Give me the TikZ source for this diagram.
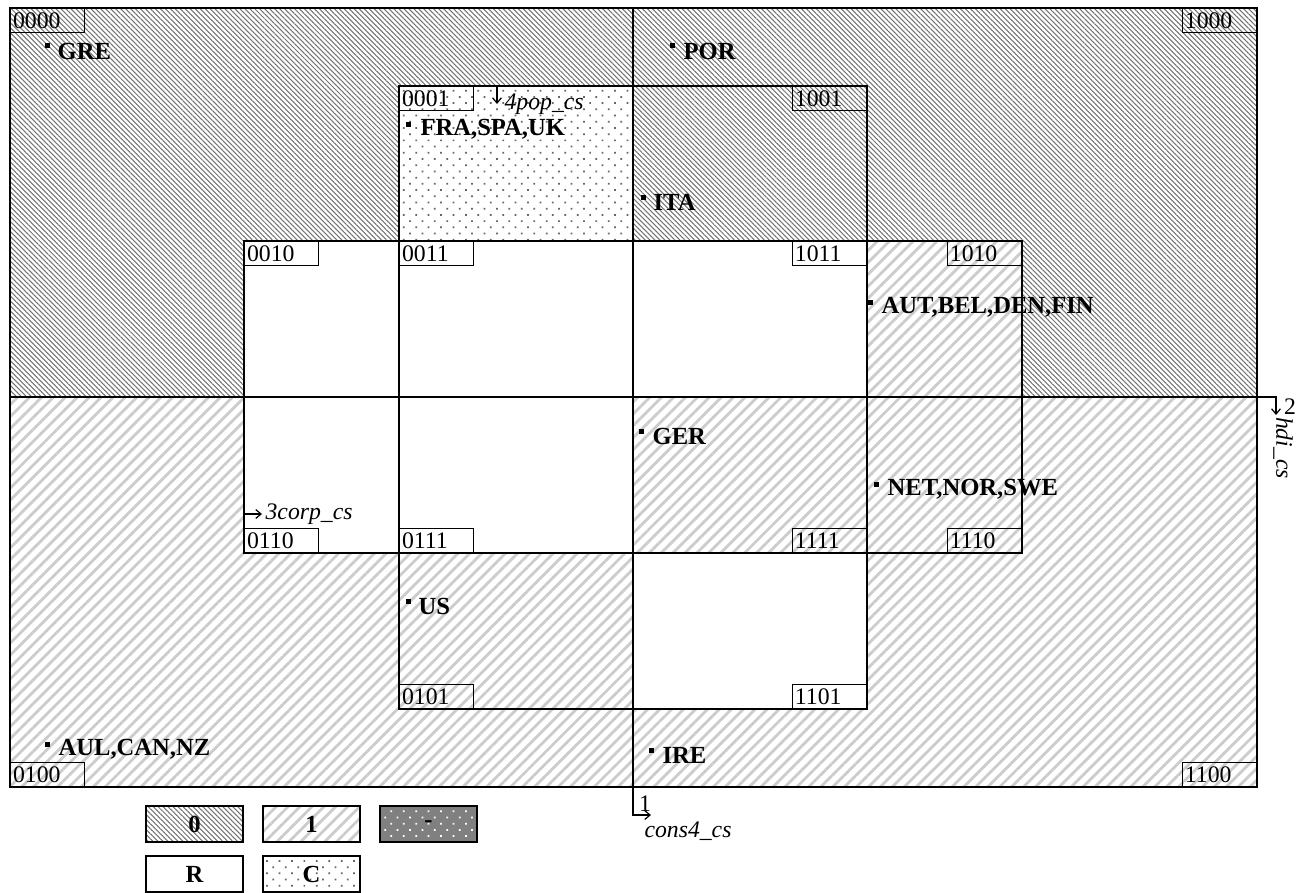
\documentclass[tikz,border=0pt]{standalone}
\usepackage{fontspec}
\setmainfont{Liberation Serif}
\usetikzlibrary{patterns.meta,arrows.meta}
\definecolor{hatchzero}{gray}{0.45}
\definecolor{hatchone}{gray}{0.80}
\definecolor{dotgray}{gray}{0.40}
\definecolor{legdark}{gray}{0.50}

\begin{document}
\begin{tikzpicture}[x=0.02cm, y=-0.02cm, line width=0.7pt, >={Straight Barb[length=3pt,width=5pt]},
  zero/.style={pattern={Lines[angle=-45,distance=2pt,line width=0.6pt]}, pattern color=hatchzero},
  one/.style={pattern={Lines[angle=45,distance=4.8pt,line width=1.6pt]}, pattern color=hatchone},
  cpat/.style={pattern={Dots[distance=5pt,radius=0.7pt,angle=45]}, pattern color=dotgray},
  code/.style={draw, text width=1.38cm, inner xsep=0.05cm, inner ysep=0pt, minimum height=0.48cm,
    align=left, font=\fontsize{13.5}{13.5}\selectfont},
  dotmark/.style={fill, rectangle, minimum size=0.1cm, inner sep=0pt},
  country/.style={anchor=west, inner sep=0pt, font=\bfseries\fontsize{14}{14}\selectfont},
  axname/.style={inner sep=0pt, font=\itshape\fontsize{13.5}{14}\selectfont},
  legbox/.style={draw, minimum width=1.94cm, minimum height=0.72cm, inner sep=0pt,
    font=\bfseries\fontsize{14}{14}\selectfont}]
  \useasboundingbox (0,0) rectangle (1307,892);

  % cell fillings
  \fill[zero] (10,8) rectangle (1257,397);
  \fill[one] (10,397) rectangle (1257,787);
  \fill[white] (244,241) rectangle (633,553);
  \fill[white] (633,241) rectangle (1022,397);
  \fill[white] (633,553) rectangle (867,709);
  \fill[white] (399,86) rectangle (633,241);
  \fill[cpat] (399,86) rectangle (633,241);
  \fill[one] (867,241) rectangle (1022,397);

  % borders
  \draw (10,8) rectangle (1257,787);
  \draw (399,86) rectangle (867,709);
  \draw (244,241) rectangle (1022,553);
  \draw (10,397) -- (1257,397);

  % variable axes
  \coordinate (c1) at (633,8);
  \coordinate (c1end) at (633,815);
  \coordinate (c2) at (1257,397);
  \coordinate (c2end) at (1276,397);
  \coordinate (c3) at (244,514);
  \coordinate (c4) at (497,86);
  \draw[->] (c1) -- (c1end) -- ++(18,0);
  \draw[->] (c2) -- (c2end) -- ++(0,18);
  \draw[->] (c3) -- ++(18,0);
  \draw[->] (c4) -- ++(0,18);
  \node[inner sep=0pt, font=\fontsize{13.5}{13.5}\selectfont] (one1) at (645,804) {1};
  \node[axname] (cons) at (688,831) {cons4\_cs};
  \node[inner sep=0pt, font=\fontsize{13.5}{13.5}\selectfont] (two2) at (1290,407) {2};
  \node[axname, rotate=-90] (hdi) at (1283,448) {hdi\_cs};
  \node[axname, anchor=west] (corp) at (265,514) {3corp\_cs};
  \node[axname, anchor=west] (pop) at (504,104) {4pop\_cs};

  % region codes
  \node[code, anchor=north west] (k0000) at (10,8) {0000};
  \node[code, anchor=north east] (k1000) at (1257,8) {1000};
  \node[code, anchor=north west] (k0001) at (399,86) {0001};
  \node[code, anchor=north east] (k1001) at (867,86) {1001};
  \node[code, anchor=north west] (k0010) at (244,241) {0010};
  \node[code, anchor=north west] (k0011) at (399,241) {0011};
  \node[code, anchor=north east] (k1011) at (867,241) {1011};
  \node[code, anchor=north east] (k1010) at (1022,241) {1010};
  \node[code, anchor=south west] (k0110) at (244,553) {0110};
  \node[code, anchor=south west] (k0111) at (399,553) {0111};
  \node[code, anchor=south east] (k1111) at (867,553) {1111};
  \node[code, anchor=south east] (k1110) at (1022,553) {1110};
  \node[code, anchor=south west] (k0101) at (399,709) {0101};
  \node[code, anchor=south east] (k1101) at (867,709) {1101};
  \node[code, anchor=south west] (k0100) at (10,787) {0100};
  \node[code, anchor=south east] (k1100) at (1257,787) {1100};

  % countries
  \node[dotmark] (gre) at (47,46) {};
  \node[country] (greL) at (57,51) {GRE};
  \node[dotmark] (por) at (672,46) {};
  \node[country] (porL) at (683,51) {POR};
  \node[dotmark] (fra) at (408,124) {};
  \node[country] (fraL) at (420,129) {FRA,SPA,UK};
  \node[dotmark] (ita) at (643,197) {};
  \node[country] (itaL) at (653,202) {ITA};
  \node[dotmark] (aut) at (870,302) {};
  \node[country] (autL) at (881,307) {AUT,BEL,DEN,FIN};
  \node[dotmark] (ger) at (641,431) {};
  \node[country] (gerL) at (652,436) {GER};
  \node[dotmark] (net) at (876,484) {};
  \node[country] (netL) at (887,489) {NET,NOR,SWE};
  \node[dotmark] (us) at (408,601) {};
  \node[country] (usL) at (418,606) {US};
  \node[dotmark] (aul) at (47,744) {};
  \node[country] (aulL) at (58,749) {AUL,CAN,NZ};
  \node[dotmark] (ire) at (651,750) {};
  \node[country] (ireL) at (662,755) {IRE};

  % legend
  \node[legbox, zero] (leg0) at (194.5,824) {0};
  \node[legbox, one] (leg1) at (311.5,824) {1};
  \node[legbox, preaction={fill=legdark}, pattern={Dots[distance=5pt,radius=0.7pt,angle=45]}, pattern color=white] (legd) at (428.5,824) {-};
  \node[legbox] (legR) at (194.5,874) {R};
  \node[legbox, cpat] (legC) at (311.5,874) {C};
\end{tikzpicture}
\end{document}
